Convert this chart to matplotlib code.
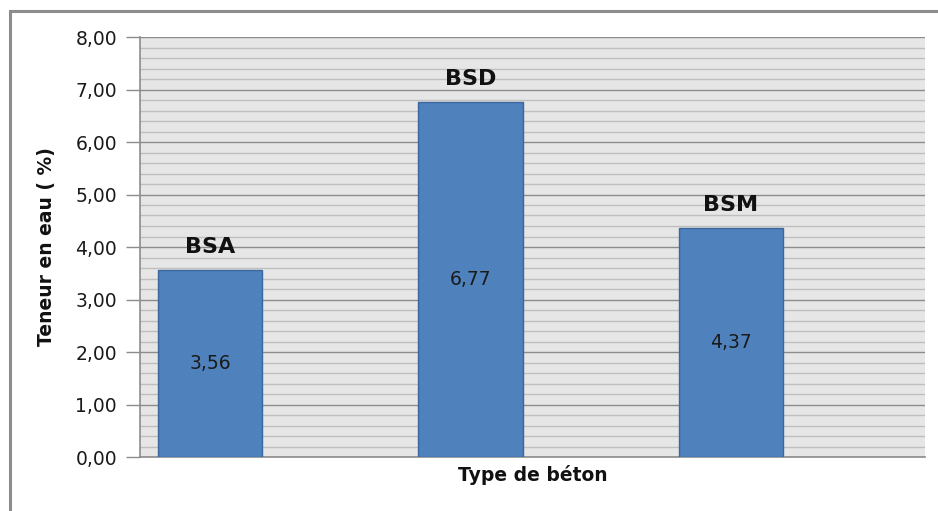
import matplotlib
matplotlib.use("Agg")
import matplotlib.pyplot as plt
from matplotlib.patches import Rectangle
from matplotlib.ticker import MultipleLocator, FuncFormatter

categories = ["BSA", "BSD", "BSM"]
values = [3.56, 6.77, 4.37]
y_ticks = [0, 1, 2, 3, 4, 5, 6, 7, 8]

plt.rcParams["font.family"] = ["DejaVu Sans"]

fig = plt.figure(figsize=(9.38, 5.11), dpi=100)
fig.patch.set_facecolor("white")

# outer chart frame
fig.patches.append(Rectangle((10 / 938, -0.2), 1.2, 1 - 11 / 511 + 0.2,
                             transform=fig.transFigure, fill=False,
                             edgecolor="#8c8c8c", linewidth=2.2, zorder=0))

ax = fig.add_axes([140 / 938, 1 - 457 / 511, 785 / 938, 420 / 511])
ax.set_facecolor("#e6e6e6")

x = list(range(len(categories)))
ax.bar(x, values, width=0.4, color="#4f81bd", edgecolor="#3a679c",
       linewidth=1.0, zorder=3)

for xi, v, name in zip(x, values, categories):
    ax.text(xi, v / 2, f"{v:.2f}".replace(".", ","), ha="center", va="center",
            fontsize=13.5, color="#1a1a1a", zorder=4)
    ax.text(xi, v + 0.32, name, ha="center", va="baseline", fontsize=16,
            fontweight="bold", color="#111111", zorder=4)

ax.set_xlim(-0.269, 2.745)
ax.set_ylim(0, 8)
ax.set_yticks(y_ticks)
ax.yaxis.set_minor_locator(MultipleLocator(0.2))
ax.yaxis.set_major_formatter(FuncFormatter(lambda v, p: f"{v:.2f}".replace(".", ",")))
ax.grid(which="major", axis="y", color="#8c8c8c", linewidth=1.0, zorder=1)
ax.grid(which="minor", axis="y", color="#bfbfbf", linewidth=1.0, zorder=1)
ax.set_xticks([])
ax.tick_params(axis="y", which="major", length=10, width=1.0, color="#8c8c8c",
               labelsize=13.5, pad=6.5, labelcolor="#1a1a1a")
ax.tick_params(axis="y", which="minor", length=0)

for s in ["top", "right"]:
    ax.spines[s].set_visible(False)
for s in ["left", "bottom"]:
    ax.spines[s].set_color("#8c8c8c")
    ax.spines[s].set_linewidth(1.2)

ax.set_xlabel("Type de béton", fontsize=13.5, fontweight="bold", labelpad=6,
              color="#111111")
ax.set_ylabel("Teneur en eau ( %)", fontsize=13.5, fontweight="bold", labelpad=14,
              color="#111111")

fig.savefig("out.png", dpi=100)
